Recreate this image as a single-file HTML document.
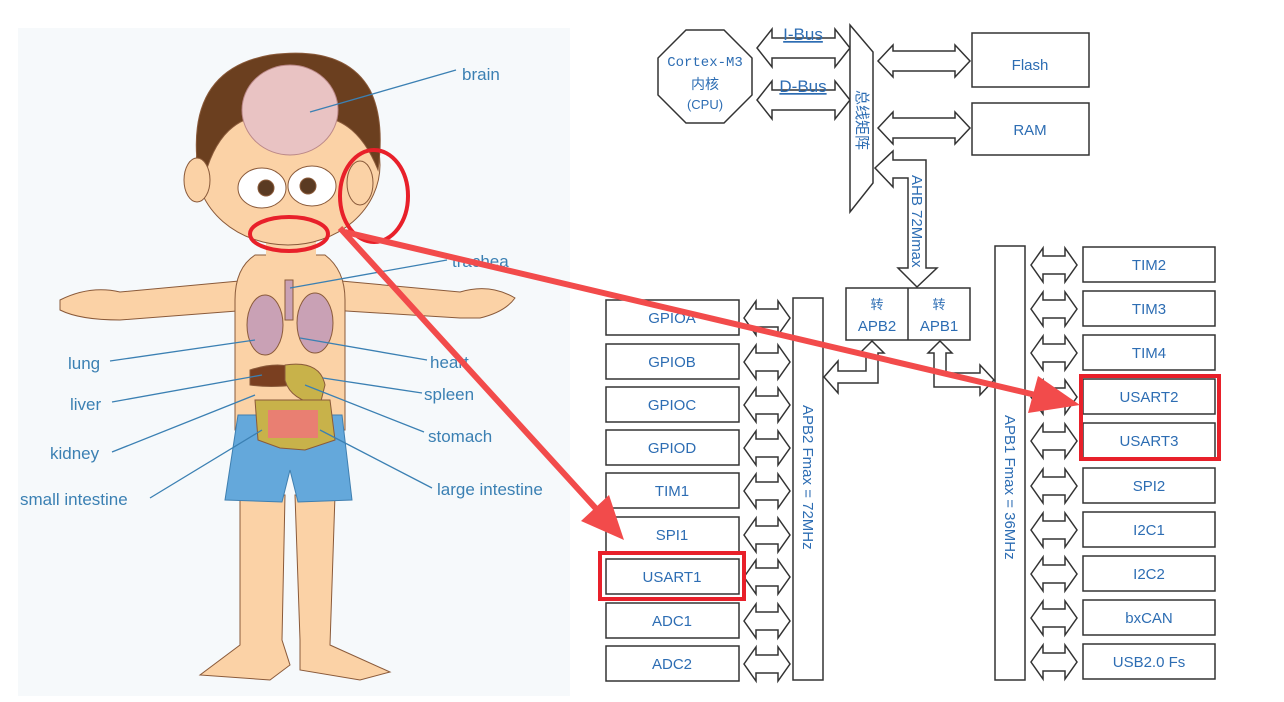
<!DOCTYPE html>
<html><head><meta charset="utf-8"><style>
html,body{margin:0;padding:0;background:#fff;}
svg{display:block;}
.lb{font-family:"Liberation Sans",sans-serif;font-size:17px;fill:#3b80b3;}
.dt{font-family:"Liberation Sans","Noto Sans CJK SC",sans-serif;font-size:15px;fill:#2d6db3;}
</style></head><body>
<svg width="1284" height="702" viewBox="0 0 1284 702" xmlns="http://www.w3.org/2000/svg">
<defs>
<path id="da" d="M0,0 L12,-17 L12,-9 L34,-9 L34,-17 L46,0 L34,17 L34,9 L12,9 L12,17 Z" fill="#fff" stroke="#333" stroke-width="1.5"/>
</defs>
<rect x="18" y="28" width="552" height="668" fill="#f6f9fb"/>
<!-- boy -->
<g stroke="#8a5a3a" stroke-width="1">
<path d="M60,300 Q90,285 120,292 L250,280 L330,280 L460,292 Q490,283 515,298 Q505,312 480,318 L460,318 L330,310 L250,310 L120,320 Q80,320 60,310 Z" fill="#fbd2a6"/>
<path d="M240,495 L285,495 L282,640 L290,665 L270,680 L200,675 L240,645 Z" fill="#fbd2a6"/>
<path d="M295,495 L335,495 L330,645 L390,672 L360,680 L300,670 L300,640 Z" fill="#fbd2a6"/>
<path d="M255,255 L325,255 Q345,270 345,300 L345,430 L235,430 L235,300 Q235,268 255,255 Z" fill="#fbd2a6"/>
<path d="M238,415 L342,415 L352,500 L298,502 L290,470 L282,502 L225,500 Z" fill="#64a8db" stroke="#3f7fb0"/>
<rect x="266" y="220" width="50" height="45" fill="#fbd2a6" stroke="none"/>
<ellipse cx="288" cy="165" rx="92" ry="80" fill="#fbd2a6"/>
<path d="M198,170 Q185,70 270,55 Q345,45 370,90 Q385,120 378,170 Q362,130 335,120 L250,118 Q218,128 205,175 Z" fill="#6b3f1f"/>
<ellipse cx="290" cy="110" rx="48" ry="45" fill="#e9c3c3" stroke="#b88"/>
<ellipse cx="262" cy="188" rx="24" ry="20" fill="#fff"/>
<ellipse cx="312" cy="186" rx="24" ry="20" fill="#fff"/>
<circle cx="266" cy="188" r="8" fill="#5a3a22"/>
<circle cx="308" cy="186" r="8" fill="#5a3a22"/>
<ellipse cx="197" cy="180" rx="13" ry="22" fill="#fbd2a6"/>
<ellipse cx="360" cy="183" rx="13" ry="22" fill="#fbd2a6"/>
<ellipse cx="265" cy="325" rx="18" ry="30" fill="#c9a1b5"/>
<ellipse cx="315" cy="323" rx="18" ry="30" fill="#c9a1b5"/>
<rect x="285" y="280" width="8" height="40" fill="#c9a1b5"/>
<path d="M250,370 Q280,360 300,370 L295,385 Q270,388 250,385 Z" fill="#7a3f20"/>
<path d="M285,365 Q320,360 325,385 L320,405 Q290,400 285,380 Z" fill="#c8b24a"/>
<path d="M255,400 L330,400 L335,440 L305,450 L280,448 L258,440 Z" fill="#c8b24a"/>
<rect x="268" y="410" width="50" height="28" fill="#e97f72" stroke="none"/>
</g>
<g stroke="#3b80b3" stroke-width="1.3" fill="none">
<line x1="310" y1="112" x2="456" y2="70"/>
<line x1="290" y1="288" x2="447" y2="260"/>
<line x1="110" y1="361" x2="255" y2="340"/>
<line x1="300" y1="338" x2="427" y2="360"/>
<line x1="112" y1="402" x2="262" y2="375"/>
<line x1="323" y1="378" x2="422" y2="393"/>
<line x1="112" y1="452" x2="255" y2="395"/>
<line x1="305" y1="385" x2="424" y2="432"/>
<line x1="150" y1="498" x2="262" y2="430"/>
<line x1="320" y1="430" x2="432" y2="488"/>
</g>
<text class="lb" x="462" y="80">brain</text>
<text class="lb" x="452" y="267">trachea</text>
<text class="lb" x="68" y="369">lung</text>
<text class="lb" x="430" y="368">heart</text>
<text class="lb" x="70" y="410">liver</text>
<text class="lb" x="424" y="400">spleen</text>
<text class="lb" x="50" y="459">kidney</text>
<text class="lb" x="428" y="442">stomach</text>
<text class="lb" x="20" y="505">small intestine</text>
<text class="lb" x="437" y="495">large intestine</text>

<g stroke="#333" stroke-width="1.5" fill="#fff">
<polygon points="686,30 724,30 752,58 752,95 724,123 686,123 658,95 658,58"/>
<path d="M757,48 L772,29 L772,38 L835,38 L835,29 L850,48 L835,67 L835,58 L772,58 L772,67Z"/>
<path d="M757,100 L772,81 L772,90 L835,90 L835,81 L850,100 L835,119 L835,110 L772,110 L772,119Z"/>
<polygon points="850,25 873,52 873,183 850,212"/>
<path d="M878,61 L893,45 L893,51 L955,51 L955,45 L970,61 L955,77 L955,71 L893,71 L893,77Z"/>
<path d="M878,128 L893,112 L893,118 L955,118 L955,112 L970,128 L955,144 L955,138 L893,138 L893,144Z"/>
<rect x="972" y="33" width="117" height="54"/>
<rect x="972" y="103" width="117" height="52"/>
<path d="M875,168 L893,151 L893,160 L926,160 L926,268 L937,268 L917,287 L898,268 L908,268 L908,178 L893,178 L893,187 Z"/>
<rect x="846" y="288" width="124" height="52"/>
<line x1="908" y1="288" x2="908" y2="340"/>
<path d="M872,341 L884,353 L878,353 L878,383 L838,383 L838,393 L824,377 L838,361 L838,371 L866,371 L866,353 L860,353 Z"/>
<path d="M940,341 L952,353 L946,353 L946,373 L980,373 L980,365 L994,380 L980,395 L980,387 L934,387 L934,353 L928,353 Z"/>
<rect x="793" y="298" width="30" height="382"/>
<rect x="995" y="246" width="30" height="434"/>
<g>
<rect x="606" y="300" width="133" height="35"/>
<rect x="606" y="344" width="133" height="35"/>
<rect x="606" y="387" width="133" height="35"/>
<rect x="606" y="430" width="133" height="35"/>
<rect x="606" y="473" width="133" height="35"/>
<rect x="606" y="517" width="133" height="35"/>
<rect x="606" y="559" width="133" height="35"/>
<rect x="606" y="603" width="133" height="35"/>
<rect x="606" y="646" width="133" height="35"/>
</g>
<g>
<rect x="1083" y="247" width="132" height="35"/>
<rect x="1083" y="291" width="132" height="35"/>
<rect x="1083" y="335" width="132" height="35"/>
<rect x="1083" y="379" width="132" height="35"/>
<rect x="1083" y="423" width="132" height="35"/>
<rect x="1083" y="468" width="132" height="35"/>
<rect x="1083" y="512" width="132" height="35"/>
<rect x="1083" y="556" width="132" height="35"/>
<rect x="1083" y="600" width="132" height="35"/>
<rect x="1083" y="644" width="132" height="35"/>
</g>
</g>
<g>
<use href="#da" x="744" y="318"/><use href="#da" x="744" y="362"/><use href="#da" x="744" y="405"/>
<use href="#da" x="744" y="448"/><use href="#da" x="744" y="491"/><use href="#da" x="744" y="535"/>
<use href="#da" x="744" y="577"/><use href="#da" x="744" y="621"/><use href="#da" x="744" y="664"/>
<use href="#da" x="1031" y="265"/><use href="#da" x="1031" y="309"/><use href="#da" x="1031" y="353"/>
<use href="#da" x="1031" y="397"/><use href="#da" x="1031" y="441"/><use href="#da" x="1031" y="486"/>
<use href="#da" x="1031" y="530"/><use href="#da" x="1031" y="574"/><use href="#da" x="1031" y="618"/>
<use href="#da" x="1031" y="662"/>
</g>
<g class="dt" text-anchor="middle">
<text x="705" y="66" font-size="14" font-family="Liberation Mono,monospace">Cortex-M3</text>
<text x="705" y="89" font-size="14">内核</text>
<text x="705" y="109" font-size="13">(CPU)</text>
<text x="803" y="40" font-size="17" text-decoration="underline">I-Bus</text>
<text x="803" y="92" font-size="17" text-decoration="underline">D-Bus</text>
<text x="1030" y="70">Flash</text>
<text x="1030" y="135">RAM</text>
<text x="877" y="309" font-size="13">转</text>
<text x="877" y="331">APB2</text>
<text x="939" y="309" font-size="13">转</text>
<text x="939" y="331">APB1</text>
<text x="672" y="323">GPIOA</text><text x="672" y="367">GPIOB</text><text x="672" y="410">GPIOC</text>
<text x="672" y="453">GPIOD</text><text x="672" y="496">TIM1</text><text x="672" y="540">SPI1</text>
<text x="672" y="582">USART1</text><text x="672" y="626">ADC1</text><text x="672" y="669">ADC2</text>
<text x="1149" y="270">TIM2</text><text x="1149" y="314">TIM3</text><text x="1149" y="358">TIM4</text>
<text x="1149" y="402">USART2</text><text x="1149" y="446">USART3</text><text x="1149" y="491">SPI2</text>
<text x="1149" y="535">I2C1</text><text x="1149" y="579">I2C2</text><text x="1149" y="623">bxCAN</text>
<text x="1149" y="667">USB2.0 Fs</text>
</g>
<text class="dt" font-size="13" transform="translate(912,175) rotate(90)">AHB 72Mmax</text>
<text class="dt" font-size="13" transform="translate(803,405) rotate(90)">APB2 Fmax = 72MHz</text>
<text class="dt" font-size="13" transform="translate(1005,415) rotate(90)">APB1 Fmax = 36MHz</text>
<text class="dt" font-size="11" transform="translate(857,90) rotate(90)">总线矩阵</text>
<g fill="none" stroke="#e8202a" stroke-width="4">
<ellipse cx="374" cy="196" rx="34" ry="46"/>
<ellipse cx="289" cy="234" rx="39" ry="17"/>
<rect x="600" y="553" width="144" height="46"/>
<rect x="1081" y="376" width="138" height="83"/>
</g>
<g stroke="#f24b4b" stroke-width="6" fill="#f24b4b">
<line x1="340" y1="228" x2="600" y2="513"/>
<line x1="345" y1="232" x2="1040" y2="396"/>
<polygon points="624,540 581,521 609,495" stroke="none"/>
<polygon points="1080,405 1028,413 1038,376" stroke="none"/>
</g>
</svg>
</body></html>
